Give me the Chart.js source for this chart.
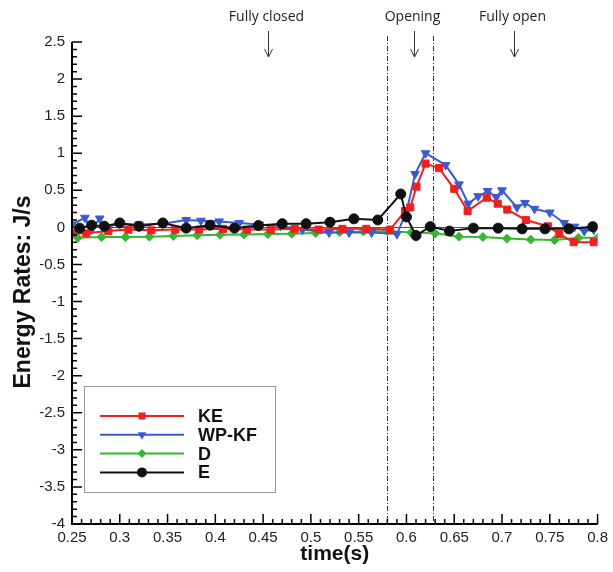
<!DOCTYPE html>
<html>
<head>
<meta charset="utf-8">
<script src="https://cdn.jsdelivr.net/npm/chart.js@4/dist/chart.umd.min.js"></script>
<style>
  html, body { margin: 0; padding: 0; background: #fff; }
  #wrap { width: 613px; height: 572px; }
</style>
</head>
<body>
<div id="wrap"><canvas id="energyChart" width="613" height="572"></canvas></div>
<script>
// Series names (legend)
const seriesNames = ["KE", "WP-KF", "D", "E"];

// KE
const keTime  = [0.25, 0.265, 0.288, 0.309, 0.333, 0.358, 0.383, 0.408, 0.433, 0.458, 0.483, 0.508, 0.533, 0.558, 0.583, 0.5985, 0.604, 0.6105, 0.62, 0.634, 0.65, 0.664, 0.684, 0.6955, 0.7055, 0.725, 0.748, 0.76, 0.775, 0.796];
const keValue = [-0.08, -0.08, -0.05, -0.03, -0.04, -0.03, -0.03, -0.02, -0.03, -0.03, -0.02, -0.03, -0.02, -0.02, -0.03, 0.22, 0.27, 0.55, 0.86, 0.80, 0.52, 0.22, 0.40, 0.32, 0.24, 0.10, 0.015, -0.09, -0.20, -0.20];

// WP-KF
const wpTime  = [0.25, 0.2635, 0.2705, 0.279, 0.284, 0.30, 0.32, 0.345, 0.3695, 0.385, 0.404, 0.425, 0.446, 0.468, 0.491, 0.519, 0.54, 0.5635, 0.59, 0.6003, 0.609, 0.62, 0.641, 0.655, 0.6646, 0.675, 0.685, 0.694, 0.70, 0.7156, 0.724, 0.734, 0.75, 0.765, 0.776, 0.786, 0.796];
const wpValue = [0.04, 0.13, -0.03, 0.12, 0.0, 0.05, 0.04, 0.05, 0.10, 0.09, 0.08, 0.06, 0.04, 0.02, -0.03, -0.07, -0.07, -0.07, -0.09, 0.22, 0.72, 1.00, 0.84, 0.58, 0.32, 0.42, 0.49, 0.41, 0.50, 0.27, 0.33, 0.25, 0.20, 0.06, 0.01, -0.05, -0.03];

// D
const dTime  = [0.256, 0.281, 0.306, 0.331, 0.356, 0.381, 0.405, 0.43, 0.455, 0.48, 0.505, 0.53, 0.555, 0.58, 0.605, 0.63, 0.655, 0.68, 0.705, 0.73, 0.755, 0.78, 0.8];
const dValue = [-0.14, -0.13, -0.13, -0.125, -0.115, -0.105, -0.10, -0.095, -0.09, -0.085, -0.075, -0.065, -0.055, -0.05, -0.07, -0.08, -0.125, -0.13, -0.15, -0.165, -0.17, -0.14, -0.14];

// E
const eTime  = [0.258, 0.2705, 0.284, 0.30, 0.32, 0.345, 0.3695, 0.3945, 0.42, 0.445, 0.47, 0.495, 0.52, 0.545, 0.57, 0.594, 0.60, 0.61, 0.625, 0.645, 0.67, 0.696, 0.721, 0.745, 0.77, 0.795];
const eValue = [-0.01, 0.03, 0.015, 0.06, 0.015, 0.06, -0.01, 0.03, -0.01, 0.025, 0.05, 0.05, 0.07, 0.115, 0.10, 0.45, 0.14, -0.11, 0.01, -0.05, -0.01, -0.01, -0.02, -0.02, -0.02, 0.01];

// Axis ticks
const xTicks = [0.25, 0.3, 0.35, 0.4, 0.45, 0.5, 0.55, 0.6, 0.65, 0.7, 0.75, 0.8];
const yTicks = [-4, -3.5, -3, -2.5, -2, -1.5, -1, -0.5, 0, 0.5, 1, 1.5, 2, 2.5];

// Valve phases
const phaseLabels = ["Fully closed", "Opening", "Fully open"];
const phaseTimes = [0.455, 0.6075, 0.7125];
const phaseBounds = [0.58, 0.6275];

const colors = ["#ee2020", "#3a5bd0", "#33b833", "#111111"];
const markers = [
    { style: "rect", radius: 5, rotation: 0 },
    { style: "triangle", radius: 5, rotation: 180 },
    { style: "rectRot", radius: 4.5, rotation: 0 },
    { style: "circle", radius: 5, rotation: 0 }
];

function toPoints(times, values) {
    return times.map((t, i) => ({ x: t, y: values[i] }));
}

function makeDataset(i, times, values, order) {
    return {
        label: seriesNames[i],
        data: toPoints(times, values),
        borderColor: colors[i],
        backgroundColor: colors[i],
        borderWidth: 2,
        tension: 0,
        pointStyle: markers[i].style,
        pointRadius: markers[i].radius,
        pointRotation: markers[i].rotation,
        pointBackgroundColor: colors[i],
        pointBorderColor: colors[i],
        pointBorderWidth: 1,
        order: order
    };
}

// small marker drawer for the legend
function drawMarker(ctx, kind, x, y, r) {
    ctx.beginPath();
    if (kind === "rect") {
        const s = r * Math.SQRT1_2;
        ctx.rect(x - s, y - s, 2 * s, 2 * s);
    } else if (kind === "triangle") {
        const h = r * 0.866;
        ctx.moveTo(x - h, y - r / 2);
        ctx.lineTo(x + h, y - r / 2);
        ctx.lineTo(x, y + r);
        ctx.closePath();
    } else if (kind === "rectRot") {
        ctx.moveTo(x, y - r);
        ctx.lineTo(x + r, y);
        ctx.lineTo(x, y + r);
        ctx.lineTo(x - r, y);
        ctx.closePath();
    } else {
        ctx.arc(x, y, r, 0, Math.PI * 2);
    }
    ctx.fill();
}

const decorations = {
    id: "decorations",
    beforeDatasetsDraw(chart) {
        const { ctx, chartArea: a, scales: { x, y } } = chart;
        ctx.save();
        // zero reference line
        ctx.strokeStyle = "#555";
        ctx.lineWidth = 1;
        const y0 = Math.round(y.getPixelForValue(0)) + 0.5;
        ctx.beginPath();
        ctx.moveTo(a.left, y0);
        ctx.lineTo(a.right, y0);
        ctx.stroke();
        // phase boundaries (dash-dot)
        ctx.setLineDash([5, 2, 1, 2]);
        ctx.strokeStyle = "#333";
        phaseBounds.forEach(t => {
            const px = Math.round(x.getPixelForValue(t)) + 0.5;
            ctx.beginPath();
            ctx.moveTo(px, 36);
            ctx.lineTo(px, a.bottom);
            ctx.stroke();
        });
        ctx.restore();
    },
    afterDraw(chart) {
        const { ctx, chartArea: a, scales: { x, y } } = chart;
        ctx.save();

        // axes
        ctx.strokeStyle = "#000";
        ctx.lineWidth = 2;
        ctx.beginPath();
        ctx.moveTo(a.left, a.top);
        ctx.lineTo(a.left, a.bottom);
        ctx.lineTo(a.right, a.bottom);
        ctx.stroke();

        // inward ticks, 4 minor between majors
        ctx.lineWidth = 1.5;
        ctx.beginPath();
        for (let i = 0; i < xTicks.length; i++) {
            const px = x.getPixelForValue(xTicks[i]);
            ctx.moveTo(px, a.bottom);
            ctx.lineTo(px, a.bottom - 10);
            if (i < xTicks.length - 1) {
                for (let k = 1; k < 5; k++) {
                    const m = x.getPixelForValue(xTicks[i] + (xTicks[i + 1] - xTicks[i]) * k / 5);
                    ctx.moveTo(m, a.bottom);
                    ctx.lineTo(m, a.bottom - 5);
                }
            }
        }
        for (let i = 0; i < yTicks.length; i++) {
            const py = y.getPixelForValue(yTicks[i]);
            ctx.moveTo(a.left, py);
            ctx.lineTo(a.left + 10, py);
            if (i < yTicks.length - 1) {
                for (let k = 1; k < 5; k++) {
                    const m = y.getPixelForValue(yTicks[i] + (yTicks[i + 1] - yTicks[i]) * k / 5);
                    ctx.moveTo(a.left, m);
                    ctx.lineTo(a.left + 5, m);
                }
            }
        }
        ctx.stroke();

        // axis titles
        ctx.fillStyle = "#111";
        ctx.font = "bold 21px 'Liberation Sans', Arial, sans-serif";
        ctx.textAlign = "center";
        ctx.textBaseline = "middle";
        ctx.fillText("time(s)", (a.left + a.right) / 2, 554);
        ctx.save();
        ctx.translate(24, 292);
        ctx.rotate(-Math.PI / 2);
        ctx.font = "bold 23px 'Liberation Sans', Arial, sans-serif";
        ctx.fillText("Energy Rates: J/s", 0, 0);
        ctx.restore();

        // phase annotations
        ctx.font = "14px 'Open Sans', sans-serif";
        ctx.fillStyle = "#222";
        ctx.strokeStyle = "#333";
        ctx.lineWidth = 1;
        phaseLabels.forEach((label, i) => {
            const px = Math.round(x.getPixelForValue(phaseTimes[i])) + 0.5;
            ctx.fillText(label, px - 2, 17);
            ctx.beginPath();
            ctx.moveTo(px, 31);
            ctx.lineTo(px, 57);
            ctx.moveTo(px - 4, 49);
            ctx.lineTo(px, 57);
            ctx.lineTo(px + 4, 49);
            ctx.stroke();
        });

        // legend
        const bx = 84.5, by = 386.5, bw = 191, bh = 106;
        ctx.fillStyle = "#fff";
        ctx.fillRect(bx, by, bw, bh);
        ctx.strokeStyle = "#999";
        ctx.lineWidth = 1;
        ctx.strokeRect(bx, by, bw, bh);
        ctx.font = "bold 18px 'Liberation Sans', Arial, sans-serif";
        ctx.textAlign = "left";
        seriesNames.forEach((name, i) => {
            const ly = 416 + i * 18.8;
            ctx.strokeStyle = colors[i];
            ctx.lineWidth = 2;
            ctx.beginPath();
            ctx.moveTo(100, ly);
            ctx.lineTo(184, ly);
            ctx.stroke();
            ctx.fillStyle = colors[i];
            drawMarker(ctx, markers[i].style, 142, ly, markers[i].radius);
            ctx.fillStyle = "#111";
            ctx.fillText(name, 198, ly + 1);
        });
        ctx.restore();
    }
};

new Chart(document.getElementById("energyChart"), {
    type: "line",
    data: {
        datasets: [
            makeDataset(0, keTime, keValue, 1),
            makeDataset(1, wpTime, wpValue, 2),
            makeDataset(2, dTime, dValue, 3),
            makeDataset(3, eTime, eValue, 0)
        ]
    },
    options: {
        responsive: false,
        animation: false,
        devicePixelRatio: 1,
        layout: { padding: { left: 0, right: 13, top: 42, bottom: 0 } },
        plugins: {
            legend: { display: false },
            tooltip: { enabled: false }
        },
        scales: {
            x: {
                type: "linear",
                min: 0.25,
                max: 0.8,
                afterBuildTicks: s => { s.ticks = xTicks.map(v => ({ value: v })); },
                afterFit: s => { s.height = 48; },
                grid: { display: false, drawTicks: false },
                border: { display: false },
                ticks: {
                    padding: 5,
                    maxRotation: 0,
                    autoSkip: false,
                    color: "#222",
                    font: { family: "'Liberation Sans', Arial, sans-serif", size: 15 },
                    callback: v => String(v)
                }
            },
            y: {
                type: "linear",
                min: -4,
                max: 2.5,
                afterBuildTicks: s => { s.ticks = yTicks.map(v => ({ value: v })); },
                afterFit: s => { s.width = 72; },
                grid: { display: false, drawTicks: false },
                border: { display: false },
                ticks: {
                    padding: 7,
                    autoSkip: false,
                    color: "#222",
                    font: { family: "'Liberation Sans', Arial, sans-serif", size: 15 },
                    callback: v => String(v)
                }
            }
        }
    },
    plugins: [decorations]
});
</script>
</body>
</html>
